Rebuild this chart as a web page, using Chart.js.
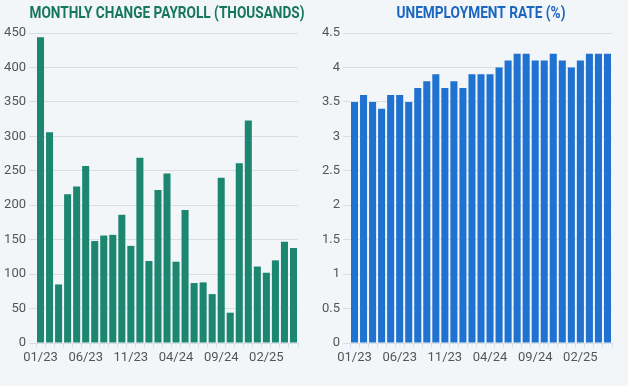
<!DOCTYPE html>
<html>
<head>
<meta charset="utf-8">
<script src="https://cdn.jsdelivr.net/npm/chart.js@4.4.1/dist/chart.umd.min.js"></script>
<style>
  html, body { margin: 0; padding: 0; background: #f3f6f9; }
  .wrap { display: flex; width: 628px; height: 386px; }
  .box { position: relative; width: 314px; height: 386px; }
</style>
</head>
<body>
<div class="wrap">
  <div class="box"><canvas id="payrollChart" width="314" height="386"></canvas></div>
  <div class="box"><canvas id="unempChart" width="314" height="386"></canvas></div>
</div>
<script>
const months = [
  "01/23", "02/23", "03/23", "04/23", "05/23", "06/23", "07/23", "08/23", "09/23", "10/23",
  "11/23", "12/23", "01/24", "02/24", "03/24", "04/24", "05/24", "06/24", "07/24", "08/24",
  "09/24", "10/24", "11/24", "12/24", "01/25", "02/25", "03/25", "04/25", "05/25",
];

const payroll = [
  444, 306, 85, 216, 227, 257, 148, 156, 157, 186,
  141, 269, 119, 222, 246, 118, 193, 87, 88, 71,
  240, 44, 261, 323, 111, 102, 120, 147, 138,
];

const unemployment = [
  3.5, 3.6, 3.5, 3.4, 3.6, 3.6, 3.5, 3.7, 3.8, 3.9,
  3.7, 3.8, 3.7, 3.9, 3.9, 3.9, 4.0, 4.1, 4.2, 4.2,
  4.1, 4.1, 4.2, 4.1, 4.0, 4.1, 4.2, 4.2, 4.2,
];

const payrollTicks = { max: 450, step: 50 };
const unempTicks = { max: 4.5, step: 0.5 };

// title drawn over the plot area, squeezed to look condensed
const titlePlugin = {
  id: "panelTitle",
  afterDraw(chart, args, opts) {
    const { ctx, chartArea } = chart;
    ctx.save();
    ctx.font = "bold 17px Roboto";
    ctx.fillStyle = opts.color;
    ctx.textAlign = "center";
    ctx.textBaseline = "middle";
    const w = ctx.measureText(opts.text).width;
    const sx = opts.width / w;
    const cx = (chartArea.left + chartArea.right) / 2;
    ctx.translate(cx, 14);
    ctx.scale(sx, 1);
    ctx.fillText(opts.text, 0, 0);
    ctx.restore();
  },
};

function makeChart(id, values, color, gapColor, tickCfg, title, titleColor, titleWidth) {
  const ctx = document.getElementById(id).getContext("2d");
  return new Chart(ctx, {
    type: "bar",
    data: {
      labels: months,
      datasets: [
        {
          data: values,
          backgroundColor: color,
          barPercentage: 0.78,
          categoryPercentage: 1,
        },
      ],
    },
    options: {
      responsive: false,
      animation: false,
      layout: { padding: { top: 33, right: 16, bottom: 0, left: 0 } },
      plugins: {
        legend: { display: false },
        tooltip: { enabled: false },
        panelTitle: { text: title, color: titleColor, width: titleWidth },
      },
      scales: {
        x: {
          offset: true,
          grid: { offset: true, drawOnChartArea: false, tickColor: gapColor, tickLength: 5 },
          border: { display: false },
          ticks: {
            autoSkip: false,
            maxRotation: 0,
            padding: 2,
            color: "#555",
            font: { family: "Roboto", size: 13 },
            callback: (v, i) => (i % 5 === 0 ? months[i] : ""),
          },
          afterFit(scale) { scale.height = 43; },
        },
        y: {
          min: 0,
          max: tickCfg.max,
          ticks: {
            stepSize: tickCfg.step,
            padding: 3,
            color: "#555",
            font: { family: "Roboto", size: 13 },
            callback: (v) => String(v),
          },
          grid: { color: "#d9dee4", tickLength: 7, tickColor: "#d9dee4" },
          border: { display: false },
          afterFit(scale) { scale.width = 36; },
        },
      },
    },
    plugins: [titlePlugin],
  });
}

makeChart("payrollChart", payroll, "#1d8670", "#cfe6e2", payrollTicks,
  "MONTHLY CHANGE PAYROLL (THOUSANDS)", "#17765f", 275);
makeChart("unempChart", unemployment, "#1f72cf", "#cfdff0", unempTicks,
  "UNEMPLOYMENT RATE (%)", "#1a66c0", 169);
</script>
</body>
</html>
